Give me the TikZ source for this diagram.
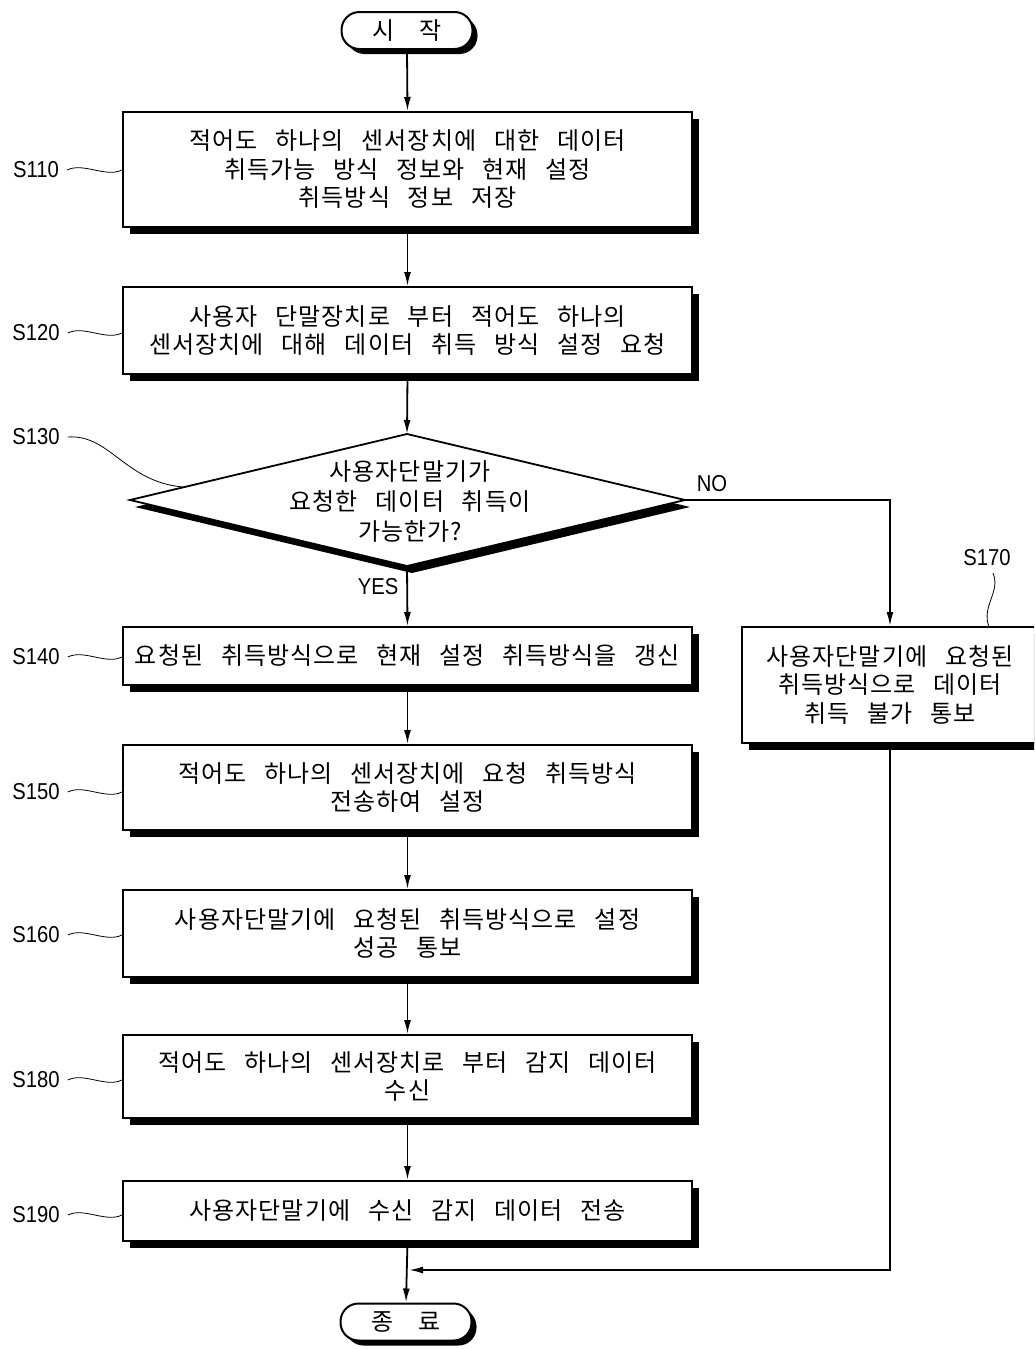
\documentclass[tikz,border=0pt]{standalone}
\usepackage{fontspec}
\usetikzlibrary{arrows.meta,shadows}
\newfontfamily\kr[LetterSpace=4.2,WordSpace=2.8]{Noto Sans CJK KR}
\newfontfamily\lat[FakeStretch=0.88]{Liberation Sans}

\tikzset{
  stepbox/.style={draw, line width=2pt, fill=white, rectangle, inner sep=0pt,
    minimum width=569pt, align=center, font=\kr\fontsize{24}{28.5}\selectfont,
    drop shadow={shadow xshift=7pt, shadow yshift=-7pt, fill=black, opacity=1}},
  term/.style={draw, line width=2pt, fill=white, rectangle, rounded corners=18pt,
    minimum width=131pt, minimum height=37pt, inner sep=0pt,
    font=\kr\fontsize{24}{26}\selectfont,
    drop shadow={shadow xshift=5pt, shadow yshift=-5pt, fill=black, opacity=1}},
  flow/.style={line width=1.8pt, -{Latex[length=14pt,width=7pt]}},
  tag/.style={font=\lat\fontsize{23}{23}\selectfont, inner sep=0pt},
  lead/.style={line width=0.8pt},
}

\begin{document}
\begin{tikzpicture}[x=1pt,y=-1pt]
\useasboundingbox (0,0) rectangle (1034,1349);
\clip (0,0) rectangle (1034,1349);

% terminals
\node[term] (start) at (407,30.5) {시\hspace{25pt}작};
\node[term] (stop) at (406,1322) {종\hspace{25pt}료};

% process boxes
\node[stepbox, minimum height=115pt] (s110) at (407.5,169.5)
  {적어도 하나의 센서장치에 대한 데이터\\취득가능 방식 정보와 현재 설정\\취득방식 정보 저장};
\node[stepbox, minimum height=87pt] (s120) at (407.5,330.5)
  {사용자 단말장치로 부터 적어도 하나의\\센서장치에 대해 데이터 취득 방식 설정 요청};
\node[stepbox, minimum height=58pt] (s140) at (407.5,656)
  {요청된 취득방식으로 현재 설정 취득방식을 갱신};
\node[stepbox, minimum height=85pt] (s150) at (407.5,787.5)
  {적어도 하나의 센서장치에 요청 취득방식\\전송하여 설정};
\node[stepbox, minimum height=87pt] (s160) at (407.5,933.5)
  {사용자단말기에 요청된 취득방식으로 설정\\성공 통보};
\node[stepbox, minimum height=83pt] (s180) at (407.5,1076.5)
  {적어도 하나의 센서장치로 부터 감지 데이터\\수신};
\node[stepbox, minimum height=60pt] (s190) at (407.5,1211)
  {사용자단말기에 수신 감지 데이터 전송};
\node[stepbox, minimum width=296pt, minimum height=116pt] (s170) at (890,685)
  {사용자단말기에 요청된\\취득방식으로 데이터\\취득 불가 통보};

% decision diamond with its lower-edge shadow
\coordinate (dtop) at (407,434);
\coordinate (dbot) at (407,566);
\coordinate (dleft) at (130,500);
\coordinate (dright) at (685,500);
\fill[black] ([shift={(5,7)}]dtop) -- ([shift={(5,7)}]dright) -- ([shift={(5,7)}]dbot) -- ([shift={(5,7)}]dleft) -- cycle;
\draw[line width=1.8pt, fill=white, line join=miter] (dtop) -- (dright) -- (dbot) -- (dleft) -- cycle;
\node[align=center, font=\kr\fontsize{24}{30}\selectfont, inner sep=0pt] (q) at (410,501)
  {사용자단말기가\\요청한 데이터 취득이\\가능한가?};

% main flow
\draw[flow] (start.south) -- (s110.north);
\draw[flow] (s110.south) -- (s120.north);
\draw[flow] (s120.south) -- (dtop);
\draw[flow] (dbot) -- (s140.north);
\draw[flow] (s140.south) -- (s150.north);
\draw[flow] (s150.south) -- (s160.north);
\draw[flow] (s160.south) -- (s180.north);
\draw[flow] (s180.south) -- (s190.north);
\draw[flow] (s190.south) -- (stop.north);

% NO branch
\draw[flow] (dright) -| (s170.north);
\coordinate (join) at (409,1270);
\draw[flow] (s170.south) |- (join);

\node[tag] (yes) at (378,587) {YES};
\node[tag] (no) at (712,484) {NO};

% step tags with leaders
\foreach \n/\t/\yy in {s110/S110/170, s120/S120/333, s140/S140/657, s150/S150/792,
                       s160/S160/935, s180/S180/1080, s190/S190/1215} {
  \node[tag] (t\n) at (36,\yy) {\t};
  \draw[lead] (t\n.east) ++(8,0) .. controls +(16,-8) and +(-16,8) .. (\n.west |- 0,\yy);
}
\node[tag] (ts130) at (36,437) {S130};
\draw[lead] (ts130.east) ++(8,0) .. controls (110,434) and (125,482) .. (183,487);
\node[tag] (ts170) at (987,558) {S170};
\draw[lead] (993,573) .. controls (1001,592) and (981,606) .. (989,627);
\end{tikzpicture}
\end{document}
